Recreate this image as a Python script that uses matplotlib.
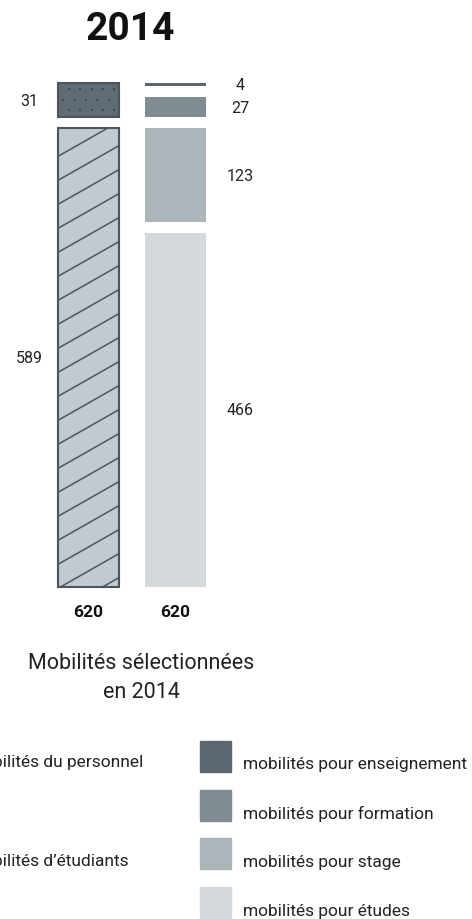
import numpy as np
import matplotlib.pyplot as plt
from matplotlib.patches import Rectangle

plt.rcParams['font.family'] = ['Roboto', 'DejaVu Sans']

# data
title = "2014"
subtitle = "Mobilités sélectionnées\nen 2014"
detail_labels = ['mobilités pour enseignement', 'mobilités pour formation',
                 'mobilités pour stage', 'mobilités pour études']
detail_values = [4, 27, 123, 466]          # top to bottom
group_labels = ['mobilités du personnel', 'mobilités d’étudiants']
group_values = [31, 589]
group_members = [2, 2]                     # detail rows in each group
totals = [620, 620]

detail_colors = ['#5b6870', '#808d93', '#abb5ba', '#d4d9dc']
group_colors = ['#5f6c73', '#c2cacf']
edge_dark = '#4c575d'

GAP = 14.5   # visual gap between stacked pieces (value units)
S = 0.76     # pixels per unit
PX = 87      # pixels per bar slot

fig = plt.figure(figsize=(4.72, 9.2), dpi=100)
ax = fig.add_axes([0, 0, 1, 1])
ax.axis('off')
ax.set_xlim(-88.5 / PX, (472 - 88.5) / PX)
ax.set_ylim(-332 / S, (920 - 332) / S)

W = 61 / PX

# right bar: detail pieces stacked from the bottom
bottoms = {}
b = 0
for i in reversed(range(len(detail_values))):
    v = detail_values[i]
    ax.bar(1, v, bottom=b, width=W, color=detail_colors[i], linewidth=0)
    bottoms[i] = (b, b + v)
    ax.text(1.74, b + v / 2, str(v), ha='center', va='center', fontsize=11.5, color='#222222')
    b += v + GAP

# left bar: each group covers its detail pieces
idx = 0
group_rects = []
for g, n in enumerate(group_members):
    members = list(range(idx, idx + n))
    lo = min(bottoms[m][0] for m in members)
    hi = max(bottoms[m][1] for m in members)
    idx += n
    rect = ax.bar(0, hi - lo, bottom=lo, width=W, color=group_colors[g],
                  edgecolor=edge_dark, linewidth=1.5, zorder=2)[0]
    group_rects.append(rect)
    ax.text(-0.68, (lo + hi) / 2, str(group_values[g]), ha='center', va='center',
            fontsize=11.5, color='#222222')

# dotted texture on the staff piece
rect = group_rects[0]
top = rect.get_y() + rect.get_height()
dx, dy = 11.3 / PX, 10.8 / S
xs, ys = [], []
for r in range(6):
    off = 0 if r % 2 == 0 else -dx / 2
    for k in range(7):
        xs.append(-W / 2 + 11 / PX + off + k * dx)
        ys.append(top - 6 / S - r * dy)
sc = ax.scatter(xs, ys, s=2.5, color='#3f4a50', marker='s', linewidths=0, zorder=3)
sc.set_clip_path(rect)

# slanted hatch on the students piece
rect = group_rects[1]
y0, y1 = rect.get_y(), rect.get_y() + rect.get_height()
slope = 0.57 * PX / S
step = 24 / S
for c in np.arange(y0 - 80 / S, y1 + 10, step):
    ln, = ax.plot([-0.5, 0.5], [c - 0.5 * slope, c + 0.5 * slope],
                  color=edge_dark, lw=1.1, zorder=3)
    ln.set_clip_path(rect)

for x, t in enumerate(totals):
    ax.annotate(str(t), xy=(x, 0), xytext=(0, -25), textcoords='offset pixels',
                ha='center', va='center', fontsize=12.5, fontweight='bold', color='#111111')

fig.text(130 / 472, 1 - 30 / 920, title, ha='center', va='center',
         fontsize=28, fontweight='bold', color='#111111')
fig.text(141 / 472, 1 - 678 / 920, subtitle, ha='center', va='center',
         fontsize=15.5, color='#222222', linespacing=1.55)

# legend
for i, lab in enumerate(detail_labels):
    ytop = 742 + i * 48.7
    fig.patches.append(Rectangle((200 / 472, 1 - (ytop + 31) / 920), 31 / 472, 31 / 920,
                                 transform=fig.transFigure, color=detail_colors[i]))
    fig.text(243 / 472, 1 - (ytop + 23) / 920, lab, ha='left', va='center',
             fontsize=12.5, color='#222222')

for g, lab in enumerate(group_labels):
    ypx = [763, 862][g]
    xend = [143, 129][g]
    fig.text(xend / 472, 1 - ypx / 920, lab, ha='right', va='center',
             fontsize=12.5, color='#222222')

fig.savefig('out.png', dpi=100, facecolor='white')
